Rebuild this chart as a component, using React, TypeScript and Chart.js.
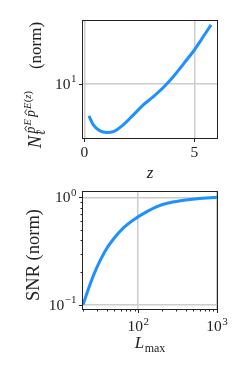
import { useEffect, useRef } from 'react';
import { Chart, registerables } from 'chart.js';

Chart.register(...registerables);

// ---- data ----
const zValues = [0.21, 0.41, 0.71, 1.02, 1.32, 1.77, 2.23, 2.68, 3.14, 3.59, 4.05, 4.5, 4.95, 5.41, 5.76];
const noiseValues = [4.41, 3.5, 3.0, 2.88, 2.95, 3.5, 4.52, 5.84, 7.22, 9.1, 12.05, 16.6, 22.9, 33.6, 45.3];

const lmaxValues = [20, 24.4, 29.7, 37.9, 48.4, 65, 87, 129, 173, 233, 344, 562, 1000];
const snrValues = [0.1, 0.153, 0.219, 0.313, 0.407, 0.519, 0.615, 0.735, 0.818, 0.88, 0.93, 0.97, 1.0];

const topXTicks = [0, 5];
const topYTicks = [10];
const bottomXMajor = [100, 1000];
const bottomXMinor = [20, 30, 40, 50, 60, 70, 80, 90, 200, 300, 400, 500, 600, 700, 800, 900];
const bottomYMajor = [0.1, 1];
const bottomYMinor = [0.2, 0.3, 0.4, 0.5, 0.6, 0.7, 0.8, 0.9];

// ---- styles ----
const FONT = '"Liberation Serif", "DejaVu Serif", serif';
const TEXT = '#222222';
const LINE = '#1E90FF';
const GRID = '#cccccc';
const FRAME = '#222222';

type Run = { t: string; size: number; it?: boolean; dy?: number; gap?: number; hat?: boolean; noAdv?: boolean };

function setFont(ctx: CanvasRenderingContext2D, r: Run) {
  ctx.font = `${r.it ? 'italic ' : ''}${r.size}px ${FONT}`;
}

function measureRuns(ctx: CanvasRenderingContext2D, runs: Run[]) {
  let w = 0;
  for (const r of runs) {
    setFont(ctx, r);
    w += r.gap || 0;
    if (!r.noAdv) w += ctx.measureText(r.t).width;
  }
  return w;
}

function drawRuns(
  ctx: CanvasRenderingContext2D,
  runs: Run[],
  x: number,
  y: number,
  align: 'left' | 'center' | 'right',
  rotate = false
) {
  ctx.save();
  ctx.translate(x, y);
  if (rotate) ctx.rotate(-Math.PI / 2);
  const w = measureRuns(ctx, runs);
  let cx = align === 'center' ? -w / 2 : align === 'right' ? -w : 0;
  ctx.fillStyle = TEXT;
  ctx.strokeStyle = TEXT;
  ctx.textAlign = 'left';
  ctx.textBaseline = 'alphabetic';
  for (const r of runs) {
    cx += r.gap || 0;
    setFont(ctx, r);
    const rw = ctx.measureText(r.t).width;
    const dy = r.dy || 0;
    ctx.fillText(r.t, cx, dy);
    if (r.hat) {
      const hx = cx + rw / 2 + r.size * 0.1;
      const hy = dy - r.size * 0.5 - 1.2;
      const hw = r.size * 0.2;
      const hh = r.size * 0.14;
      ctx.lineWidth = 0.9;
      ctx.beginPath();
      ctx.moveTo(hx - hw, hy);
      ctx.lineTo(hx, hy - hh);
      ctx.lineTo(hx + hw, hy);
      ctx.stroke();
    }
    if (!r.noAdv) cx += rw;
  }
  ctx.restore();
}

function pow10Runs(v: number): Run[] {
  const e = Math.round(Math.log10(v));
  return [
    { t: '10', size: 15.5 },
    { t: e < 0 ? '\u2212' + String(-e) : String(e), size: 11, dy: -6.5, gap: 0.5 },
  ];
}

function plainRuns(v: number): Run[] {
  return [{ t: String(v), size: 15.5 }];
}

type DecorSpec = {
  xMajor: number[];
  xMinor: number[];
  yMajor: number[];
  yMinor: number[];
  xLabel: (v: number) => Run[];
  yLabel: (v: number) => Run[];
  xTickBaseline: number;
  yTickRight: number;
  xTitle: Run[];
  xTitleY: number;
  yTitle: Run[];
  yTitleX: number;
  yTitleY: number;
};

function makeDecor(spec: DecorSpec) {
  return {
    id: 'decor',
    afterDraw(chart: any) {
      const ctx: CanvasRenderingContext2D = chart.ctx;
      const a = chart.chartArea;
      const xs = chart.scales.x;
      const ys = chart.scales.y;
      ctx.save();
      ctx.strokeStyle = FRAME;
      ctx.lineWidth = 1;
      const L = Math.round(a.left) - 0.5;
      const T = Math.round(a.top) - 0.5;
      const R = Math.round(a.right) + 0.5;
      const B = Math.round(a.bottom) + 0.5;
      ctx.strokeRect(L, T, R - L, B - T);
      ctx.beginPath();
      const tickX = (v: number, len: number) => {
        const px = Math.round(xs.getPixelForValue(v)) + 0.5;
        ctx.moveTo(px, B);
        ctx.lineTo(px, B + len);
      };
      const tickY = (v: number, len: number) => {
        const py = Math.round(ys.getPixelForValue(v)) + 0.5;
        ctx.moveTo(L, py);
        ctx.lineTo(L - len, py);
      };
      spec.xMajor.forEach((v) => tickX(v, 3.5));
      spec.xMinor.forEach((v) => tickX(v, 2));
      spec.yMajor.forEach((v) => tickY(v, 3.5));
      spec.yMinor.forEach((v) => tickY(v, 2));
      ctx.stroke();
      spec.xMajor.forEach((v) => {
        drawRuns(ctx, spec.xLabel(v), xs.getPixelForValue(v), a.bottom + spec.xTickBaseline, 'center');
      });
      spec.yMajor.forEach((v) => {
        drawRuns(ctx, spec.yLabel(v), a.left - spec.yTickRight, ys.getPixelForValue(v) + 5, 'right');
      });
      drawRuns(ctx, spec.xTitle, (a.left + a.right) / 2, spec.xTitleY, 'center');
      drawRuns(ctx, spec.yTitle, spec.yTitleX, spec.yTitleY, 'center', true);
      ctx.restore();
    },
  };
}

function gridColor(majors: number[]) {
  return (c: any) => {
    const v = c.tick ? c.tick.value : NaN;
    return majors.some((m) => Math.abs(m - v) < 1e-9 * Math.max(1, Math.abs(m))) ? GRID : 'rgba(0,0,0,0)';
  };
}

function fixedTicks(values: number[]) {
  return (scale: any) => {
    scale.ticks = values.map((v) => ({ value: v }));
  };
}

function lineDataset(xs: number[], ys: number[]) {
  return {
    data: xs.map((x, i) => ({ x, y: ys[i] })),
    borderColor: LINE,
    borderWidth: 3,
    pointRadius: 0,
    fill: false,
    cubicInterpolationMode: 'monotone',
  };
}

function topConfig(): any {
  return {
    type: 'line',
    data: { datasets: [lineDataset(zValues, noiseValues)] },
    options: {
      animation: false,
      responsive: false,
      devicePixelRatio: 1,
      events: [],
      layout: { padding: { left: 0, top: 21, right: 32, bottom: 0 } },
      plugins: { legend: { display: false }, tooltip: { enabled: false } },
      scales: {
        x: {
          type: 'linear',
          min: -0.06,
          max: 6.03,
          afterBuildTicks: fixedTicks(topXTicks),
          afterFit: (s: any) => {
            s.height = 49;
          },
          ticks: { display: false, autoSkip: false },
          grid: { color: gridColor(topXTicks), lineWidth: 1.5, drawTicks: false },
          border: { display: false },
        },
        y: {
          type: 'logarithmic',
          min: 2.5,
          max: 50,
          afterBuildTicks: fixedTicks(topYTicks),
          afterFit: (s: any) => {
            s.width = 83;
          },
          ticks: { display: false, autoSkip: false },
          grid: { color: gridColor(topYTicks), lineWidth: 1.5, drawTicks: false },
          border: { display: false },
        },
      },
    },
    plugins: [
      makeDecor({
        xMajor: topXTicks,
        xMinor: [],
        yMajor: topYTicks,
        yMinor: [],
        xLabel: plainRuns,
        yLabel: pow10Runs,
        xTickBaseline: 19,
        yTickRight: 6.5,
        xTitle: [{ t: 'z', it: true, size: 17 }],
        xTitleY: 178,
        yTitle: [
          { t: 'N', it: true, size: 19 },
          { t: '\u2113', it: true, size: 12.5, dy: 4, noAdv: true, gap: 0.5 },
          { t: 'p', it: true, size: 14, dy: -5.5, hat: true, gap: 1.5 },
          { t: 'E', it: true, size: 10.5, dy: -10, gap: 1 },
          { t: 'p', it: true, size: 14, dy: -5.5, hat: true, gap: 2 },
          { t: 'E', it: true, size: 10.5, dy: -10, gap: 1 },
          { t: '(', size: 10.5, dy: -10, gap: 0.5 },
          { t: 'z', it: true, size: 10.5, dy: -10 },
          { t: ')', size: 10.5, dy: -10 },
          { t: '(norm)', size: 17, gap: 22 },
        ],
        yTitleX: 40.5,
        yTitleY: 85,
      }),
    ],
  };
}

function bottomConfig(): any {
  return {
    type: 'line',
    data: { datasets: [lineDataset(lmaxValues, snrValues)] },
    options: {
      animation: false,
      responsive: false,
      devicePixelRatio: 1,
      events: [],
      layout: { padding: { left: 0, top: 5, right: 32, bottom: 0 } },
      plugins: { legend: { display: false }, tooltip: { enabled: false } },
      scales: {
        x: {
          type: 'logarithmic',
          min: 20,
          max: 1000,
          afterBuildTicks: fixedTicks([...bottomXMinor, ...bottomXMajor].sort((p, q) => p - q)),
          afterFit: (s: any) => {
            s.height = 65;
          },
          ticks: { display: false, autoSkip: false },
          grid: { color: gridColor(bottomXMajor), lineWidth: 1.5, drawTicks: false },
          border: { display: false },
        },
        y: {
          type: 'logarithmic',
          min: 0.0915,
          max: 1.12,
          afterBuildTicks: fixedTicks([...bottomYMinor, ...bottomYMajor].sort((p, q) => p - q)),
          afterFit: (s: any) => {
            s.width = 83;
          },
          ticks: { display: false, autoSkip: false },
          grid: { color: gridColor(bottomYMajor), lineWidth: 1.5, drawTicks: false },
          border: { display: false },
        },
      },
    },
    plugins: [
      makeDecor({
        xMajor: bottomXMajor,
        xMinor: bottomXMinor,
        yMajor: bottomYMajor,
        yMinor: bottomYMinor,
        xLabel: pow10Runs,
        yLabel: pow10Runs,
        xTickBaseline: 22,
        yTickRight: 6.5,
        xTitle: [
          { t: 'L', it: true, size: 17 },
          { t: 'max', size: 12, dy: 3.5, gap: 0.5 },
        ],
        xTitleY: 161,
        yTitle: [{ t: 'SNR (norm)', size: 18.5 }],
        yTitleX: 39,
        yTitleY: 68,
      }),
    ],
  };
}

export default function App() {
  const topRef = useRef<HTMLCanvasElement>(null);
  const botRef = useRef<HTMLCanvasElement>(null);
  useEffect(() => {
    const c1 = new Chart(topRef.current as HTMLCanvasElement, topConfig());
    const c2 = new Chart(botRef.current as HTMLCanvasElement, bottomConfig());
    return () => {
      c1.destroy();
      c2.destroy();
    };
  }, []);
  return (
    <div style={{ position: 'absolute', left: 0, top: 0, width: 249, height: 374, background: '#ffffff' }}>
      <canvas
        ref={topRef}
        width={249}
        height={187}
        style={{ position: 'absolute', left: 0, top: 0, width: 249, height: 187 }}
      />
      <canvas
        ref={botRef}
        width={249}
        height={187}
        style={{ position: 'absolute', left: 0, top: 187, width: 249, height: 187 }}
      />
    </div>
  );
}
